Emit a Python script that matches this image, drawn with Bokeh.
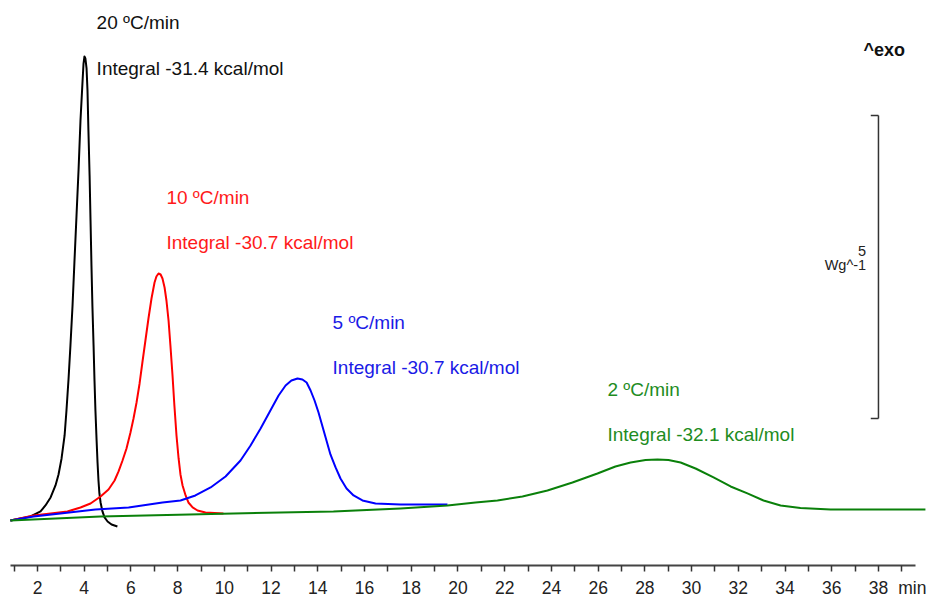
from bokeh.plotting import figure
from bokeh.models import Range1d, FixedTicker, Label
from bokeh.embed import file_html
from bokeh.resources import INLINE

# ---- data (time in min, heat flow in W/g, relative) ----
t_20 = [0.84, 1.70, 2.13, 2.34, 2.56, 2.77, 2.90, 3.03, 3.16, 3.24, 3.33, 3.41, 3.50, 3.58, 3.67,
        3.76, 3.84, 3.93, 3.97, 4.01, 4.05, 4.10, 4.14, 4.18, 4.23, 4.27, 4.31, 4.35, 4.40, 4.44,
        4.48, 4.53, 4.57, 4.61, 4.65, 4.70, 4.78, 4.87, 5.00, 5.17, 5.42]
hf_20 = [0.00, 0.066, 0.149, 0.248, 0.380, 0.578, 0.759, 1.023, 1.403, 1.815, 2.343, 2.888, 3.548,
         4.257, 5.033, 5.809, 6.601, 7.261, 7.541, 7.657, 7.624, 7.459, 7.096, 6.436, 5.693, 4.950,
         4.208, 3.548, 2.888, 2.310, 1.815, 1.320, 0.957, 0.660, 0.446, 0.297, 0.149, 0.050, -0.017,
         -0.066, -0.099]

t_10 = [0.84, 1.83, 2.56, 3.28, 3.84, 4.27, 4.70, 5.04, 5.30, 5.47, 5.64, 5.81, 5.98, 6.11, 6.24,
        6.37, 6.49, 6.62, 6.75, 6.88, 7.01, 7.09, 7.18, 7.27, 7.35, 7.44, 7.52, 7.61, 7.69, 7.78,
        7.86, 7.95, 8.04, 8.12, 8.21, 8.34, 8.46, 8.64, 8.85, 9.19, 9.96]
hf_10 = [0.00, 0.083, 0.116, 0.149, 0.215, 0.281, 0.396, 0.512, 0.660, 0.809, 0.990, 1.188, 1.452,
         1.683, 1.947, 2.261, 2.607, 2.970, 3.333, 3.663, 3.927, 4.026, 4.076, 4.059, 3.993, 3.845,
         3.630, 3.300, 2.888, 2.393, 1.898, 1.403, 1.023, 0.759, 0.578, 0.413, 0.297, 0.215, 0.165,
         0.132, 0.116]

t_5 = [0.84, 1.83, 2.98, 4.48, 5.90, 7.35, 8.12, 8.76, 9.41, 10.05, 10.69, 11.12, 11.55, 11.97,
       12.32, 12.62, 12.87, 13.13, 13.34, 13.52, 13.69, 13.86, 14.03, 14.20, 14.37, 14.54, 14.76,
       14.97, 15.23, 15.53, 15.91, 16.47, 17.54, 19.55]
hf_5 = [0.00, 0.066, 0.116, 0.182, 0.215, 0.297, 0.330, 0.413, 0.545, 0.726, 0.990, 1.238, 1.518,
        1.815, 2.063, 2.228, 2.310, 2.343, 2.327, 2.277, 2.145, 1.980, 1.782, 1.551, 1.320, 1.089,
        0.875, 0.693, 0.528, 0.413, 0.330, 0.281, 0.264, 0.264]

t_2 = [0.84, 4.70, 10.39, 14.67, 17.54, 19.55, 20.75, 21.69, 22.76, 23.83, 24.90, 25.97, 26.74,
       27.39, 28.03, 28.54, 29.01, 29.53, 30.17, 30.94, 31.67, 32.39, 33.08, 33.81, 34.66, 35.95,
       38.09, 40.01]
hf_2 = [0.00, 0.066, 0.116, 0.149, 0.198, 0.248, 0.297, 0.330, 0.396, 0.495, 0.627, 0.776, 0.891,
        0.957, 0.998, 1.007, 0.998, 0.957, 0.858, 0.710, 0.561, 0.446, 0.330, 0.248, 0.206, 0.182,
        0.182, 0.182]

rate_labels = ["20 ºC/min", "10 ºC/min", "5 ºC/min", "2 ºC/min"]
integral_labels = ["Integral -31.4 kcal/mol", "Integral -30.7 kcal/mol",
                   "Integral -30.7 kcal/mol", "Integral -32.1 kcal/mol"]
tick_values = list(range(2, 39, 2))
tick_marks = list(range(1, 40))
unit_label = "min"
unit_pos = 39.45
scale_value = 5  # W/g scale bar

line_colors = ["#000000", "#ff0000", "#0000ff", "#0a800a"]
text_colors = ["#111111", "#ff1a1a", "#1a1ae6", "#1e8c1e"]

# ---- figure ----
p = figure(frame_width=932, frame_height=565, output_backend="svg", toolbar_location=None,
           x_range=Range1d(0.416, 40.313), y_range=Range1d(-0.743, 8.581),
           y_axis_location=None, min_border_left=0, min_border_right=0,
           min_border_top=0, min_border_bottom=0)
p.outline_line_color = None
p.grid.visible = False
p.background_fill_color = "white"
p.border_fill_color = "white"

series = [(t_20, hf_20), (t_10, hf_10), (t_5, hf_5), (t_2, hf_2)]
for (tx, hy), c in zip(series, line_colors):
    p.line(tx, hy, line_color=c, line_width=2, line_join="round")

# annotations next to the peaks
text_pos = [(4.53, 8.22, 7.46), (7.52, 5.33, 4.59), (14.63, 3.27, 2.52), (26.40, 2.16, 1.42)]
for (x0, y1, y2), r, it, c in zip(text_pos, rate_labels, integral_labels, text_colors):
    for yy, tt in ((y1, r), (y2, it)):
        p.add_layout(Label(x=x0, y=yy, text=tt, text_color=c, text_font="Liberation Sans",
                           text_font_size="19px", text_baseline="middle", text_align="left"))

# scale bar (5 W/g)
bar_x = 38.0
bar_y0 = 1.683
p.segment(x0=[bar_x], y0=[bar_y0], x1=[bar_x], y1=[bar_y0 + scale_value],
          line_color="#333333", line_width=1.5)
p.segment(x0=[bar_x - 0.33, bar_x - 0.33], y0=[bar_y0, bar_y0 + scale_value],
          x1=[bar_x, bar_x], y1=[bar_y0, bar_y0 + scale_value],
          line_color="#333333", line_width=1.5)
p.add_layout(Label(x=37.47, y=4.44, text=str(scale_value), text_color="#222222",
                   text_font="Liberation Sans", text_font_size="14.5px",
                   text_baseline="middle", text_align="right"))
p.add_layout(Label(x=37.47, y=4.22, text="Wg^-1", text_color="#222222",
                   text_font="Liberation Sans", text_font_size="14.5px",
                   text_baseline="middle", text_align="right"))
p.add_layout(Label(x=37.36, y=7.77, text="^exo", text_color="#111111",
                   text_font="Liberation Sans", text_font_size="18px", text_font_style="bold",
                   text_baseline="middle", text_align="left"))

# x axis: tick marks drawn as minor ticks on every minute, labels at even minutes + unit
ax = p.xaxis[0]
ax.ticker = FixedTicker(ticks=tick_values + [unit_pos], minor_ticks=tick_marks)
ax.major_label_overrides = {unit_pos: unit_label}
ax.bounds = (0.85, 39.6)
ax.axis_line_color = "#444444"
ax.axis_line_width = 2
ax.major_tick_line_color = None
ax.major_tick_in = 0
ax.major_tick_out = 0
ax.minor_tick_line_color = "#333333"
ax.minor_tick_line_width = 1.5
ax.minor_tick_in = 0
ax.minor_tick_out = 6
ax.major_label_standoff = 6
ax.major_label_text_font = "Liberation Sans"
ax.major_label_text_font_size = "17.5px"
ax.major_label_text_color = "#222222"

open("out.html", "w").write(file_html(p, INLINE))
